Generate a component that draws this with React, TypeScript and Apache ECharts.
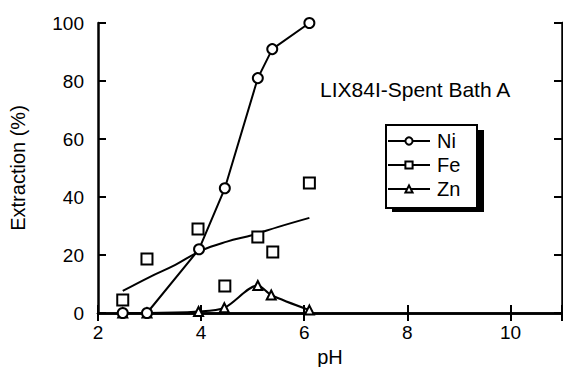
import React, { useEffect, useRef } from "react";
import * as echarts from "echarts";

const niData: [number, number][] = [
  [2.48, 0], [2.95, 0], [3.96, 22], [4.46, 43], [5.1, 81], [5.38, 91], [6.1, 100],
];
const fePoints: [number, number][] = [
  [2.48, 4.5], [2.95, 18.6], [3.94, 29], [4.46, 9.3], [5.1, 26.2], [5.39, 21], [6.1, 44.8],
];
const feFit: [number, number][] = [
  [2.48, 7.6], [3.0, 12.4], [3.5, 16.6], [4.0, 21.5], [4.5, 24.6], [5.0, 26.9], [5.5, 29.7], [6.1, 32.8],
];
const znData: [number, number][] = [
  [2.48, 0], [2.95, 0], [3.95, 0.5], [4.45, 1.8], [5.1, 9.5], [5.36, 6.2], [6.1, 1],
];
const xTicks = [2, 4, 6, 8, 10];
const yTicks = [0, 20, 40, 60, 80, 100];
const legendNames = ["Ni", "Fe", "Zn"];

const FONT = "Liberation Sans, Arial, sans-serif";

export default function App() {
  const ref = useRef<HTMLDivElement>(null);
  useEffect(() => {
    const chart = echarts.init(ref.current!, null, { renderer: "svg" });
    const markerStyle = { color: "#fff", borderColor: "#000", borderWidth: 2, opacity: 1 };
    const axisCommon = {
      axisLine: { lineStyle: { color: "#000", width: 2.5 } },
      axisTick: { inside: true, length: 8, lineStyle: { color: "#000", width: 2 } },
      splitLine: { show: false },
    };
    chart.setOption({
      animation: false,
      backgroundColor: "#fff",
      textStyle: { fontFamily: FONT },
      grid: {
        left: 98, top: 23, right: 1, bottom: 54, show: false,
        containLabel: false, outerBoundsMode: "none",
      },
      xAxis: [
        {
          type: "value", min: 2, max: 11, interval: 2, position: "bottom",
          ...axisCommon,
          axisLabel: {
            color: "#000", fontSize: 19, fontFamily: FONT, margin: 10,
            formatter: (v: number) => (xTicks.includes(v) ? String(v) : ""),
          },
          name: "pH", nameLocation: "middle", nameGap: 31,
          nameTextStyle: { color: "#000", fontSize: 20, fontFamily: FONT },
        },
        {
          type: "value", min: 2, max: 11, interval: 2, position: "top",
          ...axisCommon, axisLabel: { show: false },
        },
      ],
      yAxis: [
        {
          type: "value", min: 0, max: 100, interval: 20, position: "left",
          ...axisCommon,
          axisLabel: {
            color: "#000", fontSize: 19, fontFamily: FONT, margin: 14,
            formatter: (v: number) => (yTicks.includes(v) ? String(v) : ""),
          },
          name: "Extraction (%)", nameLocation: "middle", nameGap: 70, nameRotate: 90,
          nameTextStyle: { color: "#000", fontSize: 20, fontFamily: FONT },
        },
        {
          type: "value", min: 0, max: 100, interval: 20, position: "right",
          ...axisCommon, axisLabel: { show: false },
        },
      ],
      legend: {
        show: true,
        left: 387, top: 131,
        orient: "vertical",
        data: legendNames,
        itemWidth: 42, itemHeight: 9, itemGap: 4,
        padding: 0,
        borderWidth: 0,
        textStyle: { color: "#000", fontSize: 20, fontFamily: FONT, padding: [0, 0, 0, 2] },
        selectedMode: false,
        z: 6,
      },
      graphic: [
        {
          type: "text", left: 320, top: 79,
          style: { text: "LIX84I-Spent Bath A", fill: "#000", fontSize: 21, fontFamily: FONT },
        },
        {
          type: "rect", z: 4,
          shape: { x: 392, y: 130, width: 92, height: 82 },
          style: { fill: "#000" },
        },
        {
          type: "rect", z: 5,
          shape: { x: 386, y: 125, width: 91, height: 83 },
          style: { fill: "#fff", stroke: "#000", lineWidth: 2 },
        },
      ],
      series: [
        {
          name: "Ni", type: "line", data: niData, symbol: "circle", symbolSize: 10,
          lineStyle: { color: "#000", width: 2 }, itemStyle: markerStyle, z: 4,
        },
        {
          name: "Fe", type: "line", data: feFit, smooth: 0.4, symbol: "rect", symbolSize: 10,
          showSymbol: false, lineStyle: { color: "#000", width: 2 }, itemStyle: markerStyle, z: 2,
        },
        {
          name: "FePts", type: "scatter", data: fePoints, symbol: "rect", symbolSize: 11,
          itemStyle: markerStyle, z: 3,
        },
        {
          name: "Zn", type: "line", data: znData, smooth: 0.3, symbol: "triangle", symbolSize: 9,
          lineStyle: { color: "#000", width: 2 }, itemStyle: markerStyle, z: 3,
        },
      ],
    });
    return () => chart.dispose();
  }, []);
  return <div ref={ref} style={{ width: 563, height: 367, position: "absolute", left: 0, top: 0 }} />;
}
